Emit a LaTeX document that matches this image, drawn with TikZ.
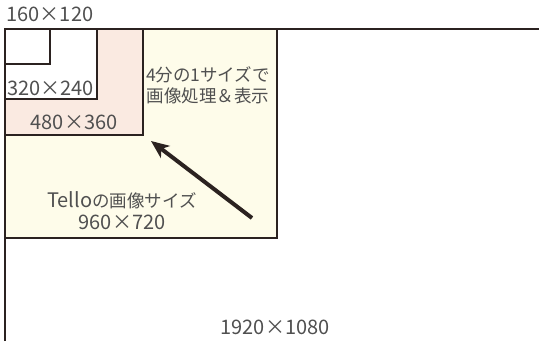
\documentclass[tikz,border=0pt]{standalone}
\usepackage{fontspec}
\setmainfont{Noto Sans CJK JP}
\usetikzlibrary{arrows.meta}
\definecolor{ln}{HTML}{2B2220}
\definecolor{yel}{HTML}{FEFCEA}
\definecolor{pnk}{HTML}{FAEAE1}
\definecolor{txt}{HTML}{505050}
\newcommand{\latbig}[1]{{\fontsize{20}{21}\selectfont #1}}
\tikzset{
  frame/.style={draw=ln,line width=2pt},
  lbl/.style={text=txt,font=\fontsize{17.5}{21}\selectfont,inner sep=0pt,align=center},
  num/.style={lbl,font=\fontsize{20}{22}\selectfont},
}
\begin{document}
\begin{tikzpicture}[x=1pt,y=-1pt]
\useasboundingbox (0,0) rectangle (539,341);
\fill[white] (0,0) rectangle (539,341);
% boxes
\fill[yel] (5,29) rectangle (277,238);
\fill[pnk] (5,29) rectangle (143,135);
\fill[white] (5,29) rectangle (97,99);
\draw[frame] (5,29) rectangle (277,238);
\draw[frame] (5,29) rectangle (143,135);
\draw[frame] (5,29) rectangle (97,99);
\draw[frame] (5,29) rectangle (50,64);
\draw[frame] (5,341) -- (5,29) -- (539,29);
% labels
\node[num] (l160) at (50,14) {160×120};
\node[num] (l320) at (50.5,88) {320×240};
\node[num] (l480) at (74,122) {480×360};
\node[lbl] (l4) at (208,85) {4分の1サイズで\\画像処理＆表示};
\node[lbl] (lt) at (122,211) {\latbig{Tello}の画像サイズ\\[1pt]\latbig{960×720}};
\node[num] (l1920) at (275,327.5) {1920×1080};
% arrow
\coordinate (as) at (252,218);
\coordinate (ae) at (151,141);
\draw[ln,line width=4pt,-{Stealth[length=18pt,width=15pt,inset=5pt]}] (as) -- (ae);
\end{tikzpicture}
\end{document}
